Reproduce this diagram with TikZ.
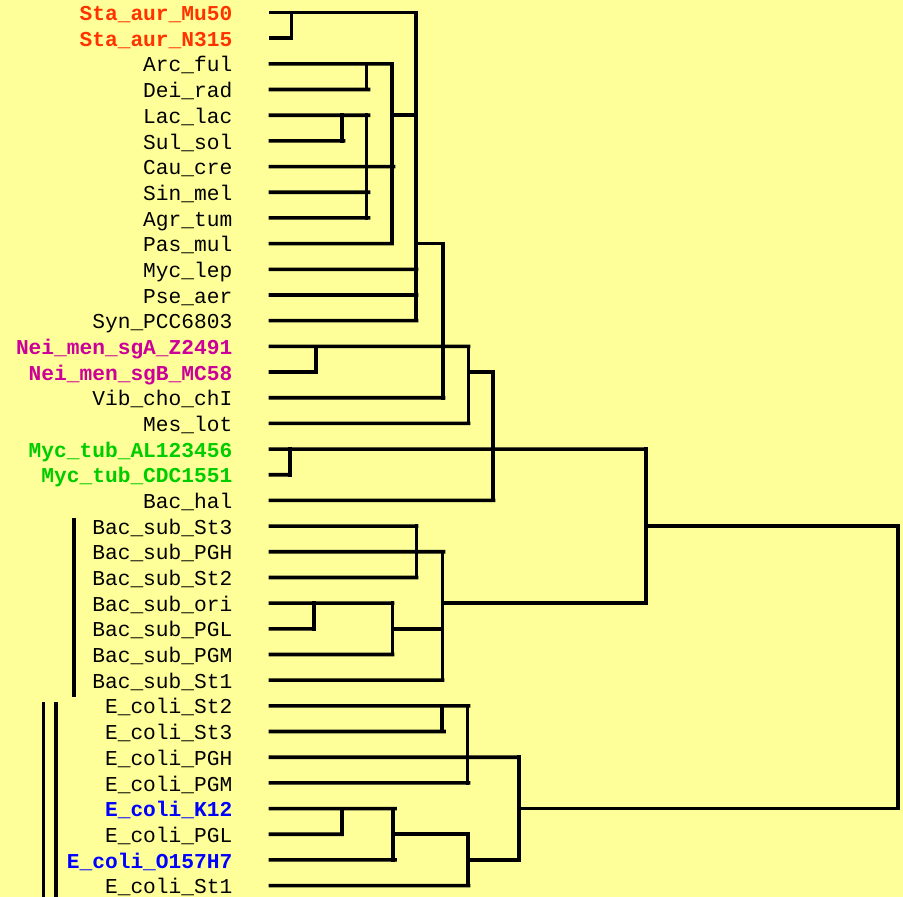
\documentclass[tikz,border=0pt]{standalone}
\usepackage{fontspec}
\setmonofont{Liberation Mono}
\definecolor{bg}{HTML}{FFFF99}
\definecolor{staC}{HTML}{FF3300}
\definecolor{neiC}{HTML}{CC0099}
\definecolor{mycC}{HTML}{00CC00}
\definecolor{ecoC}{HTML}{0000FF}
\tikzset{
  lab/.style={anchor=base east, inner sep=0pt, text=black,
    font=\ttfamily\fontsize{21.2}{21.2}\selectfont},
  hl/.style={lab, font=\ttfamily\bfseries\fontsize{21.2}{21.2}\selectfont},
  tree/.style={line width=3.6pt, line cap=rect, draw=black},
  bar/.style={line width=3.6pt, draw=black}
}
\begin{document}
\begin{tikzpicture}[x=1pt,y=-1pt]
\useasboundingbox (0,0) rectangle (903,897);
\fill[bg] (0,0) rectangle (903,897);
% labels
\node[hl, text=staC] (l0)  at (232.5, 20.60) {Sta\_aur\_Mu50};
\node[hl, text=staC] (l1)  at (232.5, 46.28) {Sta\_aur\_N315};
\node[lab] (l2)  at (232.5, 71.96) {Arc\_ful};
\node[lab] (l3)  at (232.5, 97.64) {Dei\_rad};
\node[lab] (l4)  at (232.5,123.32) {Lac\_lac};
\node[lab] (l5)  at (232.5,149.00) {Sul\_sol};
\node[lab] (l6)  at (232.5,174.68) {Cau\_cre};
\node[lab] (l7)  at (232.5,200.36) {Sin\_mel};
\node[lab] (l8)  at (232.5,226.04) {Agr\_tum};
\node[lab] (l9)  at (232.5,251.72) {Pas\_mul};
\node[lab] (l10) at (232.5,277.40) {Myc\_lep};
\node[lab] (l11) at (232.5,303.08) {Pse\_aer};
\node[lab] (l12) at (232.5,328.76) {Syn\_PCC6803};
\node[hl, text=neiC] (l13) at (232.5,354.44) {Nei\_men\_sgA\_Z2491};
\node[hl, text=neiC] (l14) at (232.5,380.12) {Nei\_men\_sgB\_MC58};
\node[lab] (l15) at (232.5,405.80) {Vib\_cho\_chI};
\node[lab] (l16) at (232.5,431.48) {Mes\_lot};
\node[hl, text=mycC] (l17) at (232.5,457.16) {Myc\_tub\_AL123456};
\node[hl, text=mycC] (l18) at (232.5,482.84) {Myc\_tub\_CDC1551};
\node[lab] (l19) at (232.5,508.52) {Bac\_hal};
\node[lab] (l20) at (232.5,534.20) {Bac\_sub\_St3};
\node[lab] (l21) at (232.5,559.88) {Bac\_sub\_PGH};
\node[lab] (l22) at (232.5,585.56) {Bac\_sub\_St2};
\node[lab] (l23) at (232.5,611.24) {Bac\_sub\_ori};
\node[lab] (l24) at (232.5,636.92) {Bac\_sub\_PGL};
\node[lab] (l25) at (232.5,662.60) {Bac\_sub\_PGM};
\node[lab] (l26) at (232.5,688.28) {Bac\_sub\_St1};
\node[lab] (l27) at (232.5,713.96) {E\_coli\_St2};
\node[lab] (l28) at (232.5,739.64) {E\_coli\_St3};
\node[lab] (l29) at (232.5,765.32) {E\_coli\_PGH};
\node[lab] (l30) at (232.5,791.00) {E\_coli\_PGM};
\node[hl, text=ecoC] (l31) at (232.5,816.68) {E\_coli\_K12};
\node[lab] (l32) at (232.5,842.36) {E\_coli\_PGL};
\node[hl, text=ecoC] (l33) at (232.5,868.04) {E\_coli\_O157H7};
\node[lab] (l34) at (232.5,893.72) {E\_coli\_St1};
% leaf line starts
\foreach \i in {0,...,34} {\coordinate (t\i) at (270.5, 12.5+25.68*\i);}
% leaf lines
\draw[tree] (t0) -- (416.5,12.50);
\draw[tree] (t1) -- (291.5,38.18);
\draw[tree] (t2) -- (392,63.86);
\draw[tree] (t3) -- (368.5,89.54);
\draw[tree] (t4) -- (368.5,115.22);
\draw[tree] (t5) -- (343.5,140.90);
\draw[tree] (t6) -- (393.5,166.58);
\draw[tree] (t7) -- (368.5,192.26);
\draw[tree] (t8) -- (368.5,217.94);
\draw[tree] (t9) -- (392,243.62);
\draw[tree] (t10) -- (416.5,269.30);
\draw[tree] (t11) -- (416.5,294.98);
\draw[tree] (t12) -- (416.5,320.66);
\draw[tree] (t13) -- (468.5,346.34);
\draw[tree] (t14) -- (316,372.02);
\draw[tree] (t15) -- (443.5,397.70);
\draw[tree] (t16) -- (468.5,423.38);
\draw[tree] (t17) -- (646,449.06);
\draw[tree] (t18) -- (290,474.74);
\draw[tree] (t19) -- (493.5,500.42);
\draw[tree] (t20) -- (416.5,526.10);
\draw[tree] (t21) -- (443.5,551.78);
\draw[tree] (t22) -- (416.5,577.46);
\draw[tree] (t23) -- (392.5,603.14);
\draw[tree] (t24) -- (314,628.82);
\draw[tree] (t25) -- (392.5,654.50);
\draw[tree] (t26) -- (442.5,680.18);
\draw[tree] (t27) -- (468.5,705.86);
\draw[tree] (t28) -- (444,731.54);
\draw[tree] (t29) -- (518.5,757.22);
\draw[tree] (t30) -- (468.5,782.90);
\draw[tree] (t31) -- (395,808.58);
\draw[tree] (t32) -- (342,834.26);
\draw[tree] (t33) -- (395,859.94);
\draw[tree] (t34) -- (468.5,885.62);
% internal verticals
\draw[tree] (291.5,12.50) -- (291.5,38.18);
\draw[tree] (416,12.50) -- (416,320.66);
\draw[tree] (366.5,63.86) -- (366.5,89.54);
\draw[tree] (392,63.86) -- (392,243.62);
\draw[tree] (342,115.22) -- (342,140.90);
\draw[tree] (366.5,115.22) -- (366.5,217.94);
\draw[tree] (442.7,243.62) -- (442.7,397.70);
\draw[tree] (316,346.34) -- (316,372.02);
\draw[tree] (468.5,346.34) -- (468.5,423.38);
\draw[tree] (493,372.02) -- (493,500.42);
\draw[tree] (290,449.06) -- (290,474.74);
\draw[tree] (646,449.06) -- (646,603.14);
\draw[tree] (416.5,526.10) -- (416.5,577.46);
\draw[tree] (442.5,551.78) -- (442.5,680.18);
\draw[tree] (314,603.14) -- (314,628.82);
\draw[tree] (392.5,603.14) -- (392.5,654.50);
\draw[tree] (898,526.10) -- (898,808.58);
\draw[tree] (442,705.86) -- (442,731.54);
\draw[tree] (467.5,705.86) -- (467.5,782.90);
\draw[tree] (519,757.22) -- (519,859.94);
\draw[tree] (342,808.58) -- (342,834.26);
\draw[tree] (392.7,808.58) -- (392.7,859.94);
\draw[tree] (468,834.26) -- (468,885.62);
% internal horizontal connectors
\draw[tree] (392,115.22) -- (416.5,115.22);
\draw[tree] (416,243.62) -- (442.7,243.62);
\draw[tree] (468.5,372.02) -- (493,372.02);
\draw[tree] (392.5,628.82) -- (442.5,628.82);
\draw[tree] (442.5,603.14) -- (646,603.14);
\draw[tree] (646,526.10) -- (898,526.10);
\draw[tree] (519,808.58) -- (898,808.58);
\draw[tree] (392.7,834.26) -- (468,834.26);
\draw[tree] (468,859.94) -- (519,859.94);
% left bars
\draw[bar] (74,518) -- (74,697);
\draw[bar] (43.5,702) -- (43.5,897);
\draw[bar] (56,702) -- (56,897);
\end{tikzpicture}
\end{document}
